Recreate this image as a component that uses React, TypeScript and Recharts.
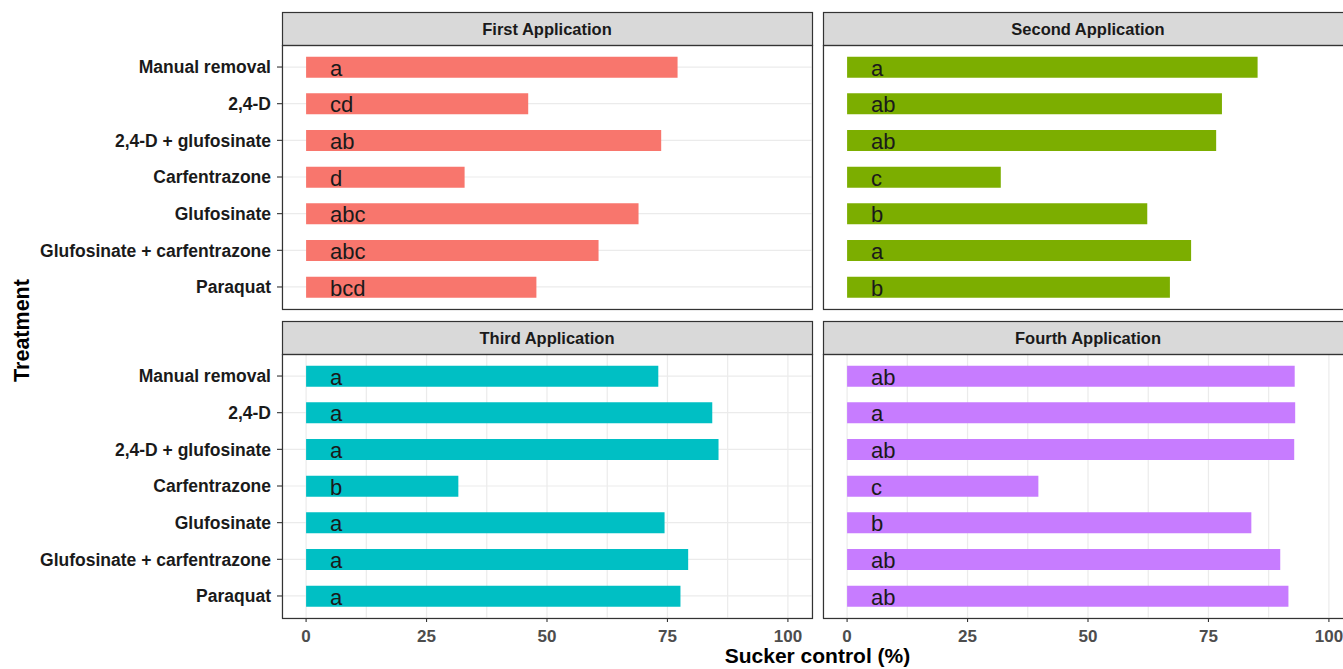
import React from 'react'
import { BarChart, Bar, XAxis, YAxis, CartesianGrid, LabelList } from 'recharts'

const treatments = [
  'Manual removal',
  '2,4-D',
  '2,4-D + glufosinate',
  'Carfentrazone',
  'Glufosinate',
  'Glufosinate + carfentrazone',
  'Paraquat',
]

const applications = ['First Application', 'Second Application', 'Third Application', 'Fourth Application']

const firstControl = [77.1, 46.1, 73.7, 32.9, 69.0, 60.7, 47.8]
const secondControl = [85.2, 77.8, 76.6, 31.9, 62.3, 71.4, 67.0]
const thirdControl = [73.1, 84.3, 85.6, 31.6, 74.4, 79.3, 77.7]
const fourthControl = [92.9, 93.0, 92.8, 39.7, 83.9, 89.9, 91.6]

const firstLetters = ['a', 'cd', 'ab', 'd', 'abc', 'abc', 'bcd']
const secondLetters = ['a', 'ab', 'ab', 'c', 'b', 'a', 'b']
const thirdLetters = ['a', 'a', 'a', 'b', 'a', 'a', 'a']
const fourthLetters = ['ab', 'a', 'ab', 'c', 'b', 'ab', 'ab']

const colors = ['#F8766D', '#7CAE00', '#00BFC4', '#C77CFF']

const majorTicks = [0, 25, 50, 75, 100]
const gridTicks = [0, 12.5, 25, 37.5, 50, 62.5, 75, 87.5, 100]

const FONT = '"Liberation Sans", Arial, Helvetica, sans-serif'

// layout of the facet grid (px)
const PANEL_W = 530
const PANEL_H = 264
const STRIP_H = 33
const COL_X = [282, 823]
const ROW_Y = [45, 354]

const XTick = (props: any) => {
  const { x, y, payload } = props
  if (!majorTicks.includes(payload.value)) return <g />
  return (
    <g>
      <line x1={x} x2={x} y1={y - 4} y2={y} stroke="#333" strokeWidth={1.1} />
      <text x={x} y={y + 20} textAnchor="middle" fontSize={17} fontWeight="bold" fill="#4d4d4d" fontFamily={FONT}>
        {payload.value}
      </text>
    </g>
  )
}

const renderLetter = (props: any) => {
  const vb = props.viewBox || props
  const x = Number(vb.x ?? props.x)
  const y = Number(vb.y ?? props.y)
  const h = Number(vb.height ?? props.height)
  return (
    <text x={x + 24} y={y + h / 2} dy="0.38em" fontSize={22} fill="#1a1a1a" fontFamily={FONT}>
      {props.value}
    </text>
  )
}

interface PanelProps {
  values: number[]
  letters: string[]
  color: string
  col: number
  row: number
}

function Panel({ values, letters, color, col, row }: PanelProps) {
  const data = treatments.map((t, i) => ({ treatment: t, control: values[i], letter: letters[i] }))
  const showY = col === 0
  const showX = row === 1
  const yW = showY ? 282 : 10
  const xH = showX ? 40 : 0
  return (
    <div style={{ position: 'absolute', left: COL_X[col] - yW, top: ROW_Y[row] }}>
      <BarChart
        width={yW + PANEL_W}
        height={PANEL_H + xH}
        data={data}
        layout="vertical"
        margin={{ top: 0, right: 0, bottom: 0, left: 0 }}
      >
        <CartesianGrid stroke="#ebebeb" strokeWidth={1.2} />
        <XAxis
          type="number"
          domain={[-5, 105]}
          ticks={gridTicks}
          interval={0}
          allowDataOverflow
          height={xH}
          axisLine={false}
          tickLine={false}
          tickSize={4}
          tickMargin={0}
          tick={showX ? <XTick /> : false}
        />
        <YAxis
          type="category"
          dataKey="treatment"
          width={yW}
          padding={{ top: 3.7, bottom: 3.7 }}
          axisLine={false}
          tickLine={showY ? { stroke: '#333', strokeWidth: 1.1 } : false}
          tickSize={5}
          tickMargin={6}
          interval={0}
          tick={showY ? { fill: '#1a1a1a', fontSize: 17.5, fontWeight: 'bold', fontFamily: FONT } : false}
        />
        <Bar dataKey="control" fill={color} barSize={21} isAnimationActive={false}>
          <LabelList dataKey="letter" content={renderLetter} />
        </Bar>
      </BarChart>
    </div>
  )
}

export default function App() {
  const series = [firstControl, secondControl, thirdControl, fourthControl]
  const letterSets = [firstLetters, secondLetters, thirdLetters, fourthLetters]
  return (
    <div
      style={{
        position: 'absolute',
        left: 0,
        top: 0,
        width: 1343,
        height: 669,
        overflow: 'hidden',
        background: '#fff',
        fontFamily: FONT,
      }}
    >
      {series.map((vals, i) => (
        <Panel key={i} values={vals} letters={letterSets[i]} color={colors[i]} col={i % 2} row={Math.floor(i / 2)} />
      ))}
      <svg width={1343} height={669} style={{ position: 'absolute', left: 0, top: 0, pointerEvents: 'none' }}>
        {applications.map((name, i) => {
          const x = COL_X[i % 2]
          const y = ROW_Y[Math.floor(i / 2)]
          return (
            <g key={name}>
              <rect x={x + 0.5} y={y - STRIP_H + 0.5} width={PANEL_W} height={STRIP_H} fill="#d9d9d9" stroke="#333" strokeWidth={1.2} />
              <rect x={x + 0.5} y={y + 0.5} width={PANEL_W} height={PANEL_H} fill="none" stroke="#333" strokeWidth={1.2} />
              <text
                x={x + PANEL_W / 2}
                y={y - STRIP_H + 23}
                textAnchor="middle"
                fontSize={16.5}
                fontWeight="bold"
                fill="#1a1a1a"
                fontFamily={FONT}
              >
                {name}
              </text>
            </g>
          )
        })}
        <text x={817.5} y={663} textAnchor="middle" fontSize={21} fontWeight="bold" fill="#000" fontFamily={FONT}>
          Sucker control (%)
        </text>
        <text
          transform="translate(29,330.5) rotate(-90)"
          textAnchor="middle"
          fontSize={21.5}
          fontWeight="bold"
          fill="#000"
          fontFamily={FONT}
        >
          Treatment
        </text>
      </svg>
    </div>
  )
}
